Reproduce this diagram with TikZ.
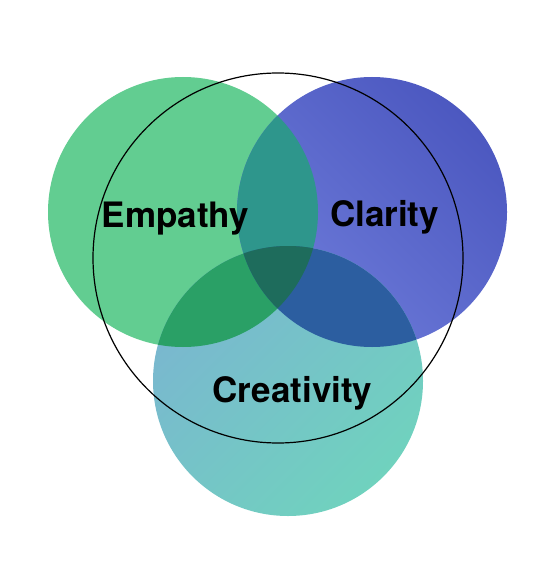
\documentclass[tikz,border=0pt]{standalone}
\usepackage{fontspec}
\setmainfont{TeX Gyre Heros}

\newcommand*{\rad}{135pt}
\newcommand*{\bigrad}{185pt}

\definecolor{empgreen}{RGB}{98,205,145}
\definecolor{clablue}{RGB}{110,124,218}
\definecolor{clablued}{RGB}{76,88,192}
\definecolor{creteal}{RGB}{112,210,190}
\definecolor{creblue}{RGB}{122,182,208}
\definecolor{ecmix}{RGB}{46,150,140}
\definecolor{etmix}{RGB}{42,160,102}
\definecolor{ctmix}{RGB}{44,94,160}
\definecolor{allmix}{RGB}{30,108,92}

\begin{document}
\begin{tikzpicture}
[
	x=1pt,
	y=-1pt,
	word/.style={anchor=base,font=\fontsize{35}{40}\selectfont\bfseries,text=black,inner sep=0pt}
]
	\useasboundingbox (0,0) rectangle (559,585);

	% centres
	\coordinate (emp) at (183,212);
	\coordinate (cla) at (372,212);
	\coordinate (cre) at (288,381);
	\coordinate (all) at (278,258);

	% base circles
	\fill[empgreen] (emp) circle[radius=\rad];
	\shade[left color=clablue,right color=clablued,shading angle=135] (cla) circle[radius=\rad];
	\shade[left color=creblue,right color=creteal,shading angle=45] (cre) circle[radius=\rad];

	% overlaps
	\begin{scope}
		\clip (emp) circle[radius=\rad];
		\fill[ecmix] (cla) circle[radius=\rad];
		\fill[etmix] (cre) circle[radius=\rad];
	\end{scope}
	\begin{scope}
		\clip (cla) circle[radius=\rad];
		\fill[ctmix] (cre) circle[radius=\rad];
	\end{scope}
	\begin{scope}
		\clip (emp) circle[radius=\rad];
		\clip (cla) circle[radius=\rad];
		\fill[allmix] (cre) circle[radius=\rad];
	\end{scope}

	% outer ring
	\draw[black,line width=1.2pt] (all) circle[radius=\bigrad];

	% labels
	\node[word] (empathy) at (175.5,227) {Empathy};
	\node[word] (clarity) at (384.5,226) {Clarity};
	\node[word] (creativity) at (292.5,402) {Creativity};

\end{tikzpicture}
\end{document}
